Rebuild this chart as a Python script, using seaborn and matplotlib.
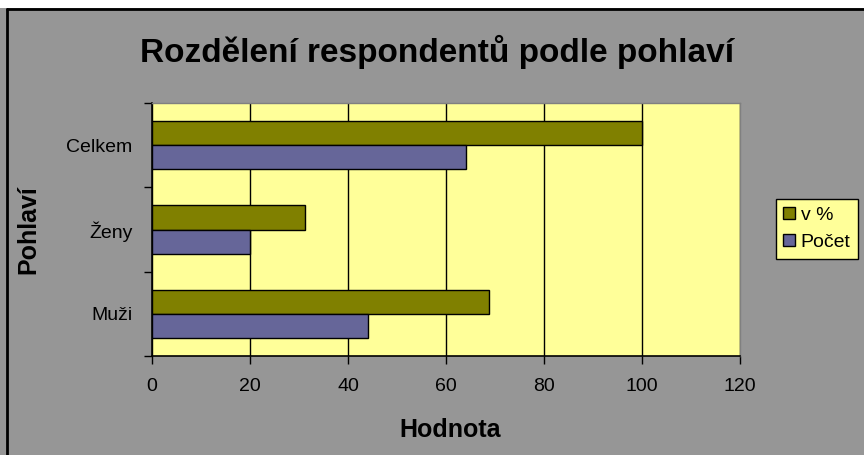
import matplotlib.pyplot as plt
import pandas as pd
import seaborn as sns
from matplotlib.lines import Line2D
from matplotlib.patches import Rectangle

# values
categories = ['Celkem', 'Ženy', 'Muži']
series_names = ['v %', 'Počet']
v_procentech = [100, 31.25, 68.75]
pocet = [64, 20, 44]
x_ticks = [0, 20, 40, 60, 80, 100, 120]

df = pd.DataFrame({
    'Pohlaví': categories * 2,
    'Řada': [series_names[0]] * 3 + [series_names[1]] * 3,
    'Hodnota': v_procentech + pocet,
})

sns.set_style('white')
plt.rcParams['font.family'] = ['Liberation Sans', 'DejaVu Sans']
plt.rcParams['text.color'] = 'black'
plt.rcParams['xtick.color'] = 'black'
plt.rcParams['ytick.color'] = 'black'
plt.rcParams['xtick.labelcolor'] = 'black'
plt.rcParams['ytick.labelcolor'] = 'black'

W, H = 864, 455
fig = plt.figure(figsize=(8.64, 4.55), dpi=100, facecolor='#969696')
ax = fig.add_axes([152 / W, 1 - 356 / H, 588 / W, 253 / H])
ax.set_facecolor('#FFFF99')

sns.barplot(data=df, x='Hodnota', y='Pohlaví', hue='Řada', order=categories,
            hue_order=series_names, palette=['#808000', '#666699'], saturation=1,
            width=0.571, edgecolor='black', linewidth=1, orient='h', ax=ax)

ax.set_xlim(0, 120)
ax.set_xticks(x_ticks)
ax.set_ylim(2.5, -0.5)
ax.xaxis.grid(True, color='black', linewidth=1)
ax.yaxis.grid(False)
ax.set_axisbelow(True)

ax.set_yticks([-0.5, 0.5, 1.5, 2.5], minor=True)
ax.tick_params(axis='y', which='major', length=0, pad=14, labelsize=14, labelcolor='black')
ax.tick_params(axis='y', which='minor', length=6, width=1, color='black', direction='out', left=True)
ax.tick_params(axis='x', length=6, width=1, color='black', direction='out', bottom=True, pad=10,
               labelsize=14, labelcolor='black')
ax.set_xlabel('')
ax.set_ylabel('')

for side in ['left', 'bottom']:
    ax.spines[side].set_color('black')
    ax.spines[side].set_linewidth(1.2)
for side in ['top', 'right']:
    ax.spines[side].set_color('#808080')
    ax.spines[side].set_linewidth(1)

leg = ax.legend(loc='center', bbox_to_anchor=(817 / W, 1 - 229 / H), bbox_transform=fig.transFigure,
                frameon=True, fancybox=False, facecolor='#FFFF99', edgecolor='black', framealpha=1,
                fontsize=14, handlelength=0.6, handleheight=0.6, handletextpad=0.3,
                borderpad=0.4, labelspacing=0.5, title=None)
leg.get_frame().set_linewidth(1)
for h in leg.legend_handles:
    h.set_edgecolor('black')
    h.set_linewidth(1)
for t in leg.get_texts():
    t.set_color('black')

fig.text(437 / W, 1 - 52 / H, 'Rozdělení respondentů podle pohlaví', fontsize=24,
         fontweight='bold', ha='center', va='center', color='black')
fig.text(450 / W, 1 - 430 / H, 'Hodnota', fontsize=18, fontweight='bold', ha='center', va='center',
         color='black')
fig.text(28 / W, 1 - 230 / H, 'Pohlaví', fontsize=18, fontweight='bold', ha='center', va='center',
         rotation=90, color='black')

# chart area frame (cropped screenshot look)
fig.add_artist(Rectangle((0, 1 - 8 / H), 1, 8 / H, transform=fig.transFigure,
                         facecolor='white', edgecolor='none'))
fig.add_artist(Line2D([7 / W, 7 / W], [0, 1 - 9 / H], transform=fig.transFigure, color='black', linewidth=2))
fig.add_artist(Line2D([7 / W, 1], [1 - 9 / H, 1 - 9 / H], transform=fig.transFigure, color='black', linewidth=2))

fig.savefig('out.png', dpi=100, facecolor=fig.get_facecolor())
